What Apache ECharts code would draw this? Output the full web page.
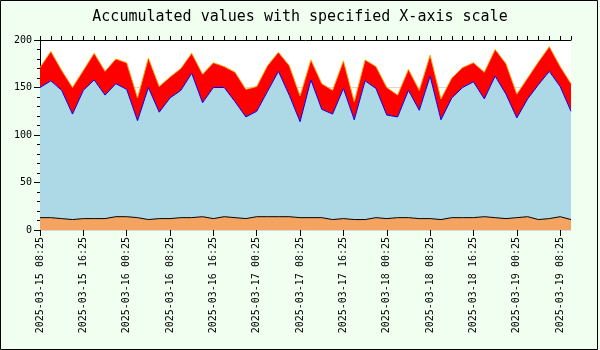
<!DOCTYPE html>
<html>
<head>
<meta charset="utf-8">
<script src="https://cdn.jsdelivr.net/npm/echarts@6/dist/echarts.min.js"></script>
<style>
  html, body { margin: 0; padding: 0; background: #f0fff0; }
  #chart { width: 600px; height: 350px; }
</style>
</head>
<body>
<div id="chart"></div>
<script>
// Sample times: hours after 2025-03-15 08:25, one reading every 2 hours
var hours = [0, 2, 4, 6, 8, 10, 12, 14, 16, 18, 20, 22, 24, 26, 28, 30, 32, 34, 36, 38,
             40, 42, 44, 46, 48, 50, 52, 54, 56, 58, 60, 62, 64, 66, 68, 70, 72, 74, 76, 78,
             80, 82, 84, 86, 88, 90, 92, 94, 96, 98];

// Bottom layer
var baseValues = [13, 13, 12, 11, 12, 12, 12, 14, 14, 13, 11, 12, 12, 13, 13, 14, 12, 14, 13, 12,
                  14, 14, 14, 14, 13, 13, 13, 11, 12, 11, 11, 13, 12, 13, 13, 12, 12, 11, 13, 13,
                  13, 14, 13, 12, 13, 14, 11, 12, 14, 11];

// Middle layer
var midValues = [137, 144, 135, 111, 135, 146, 130, 140, 134, 102, 139, 112, 127, 134, 152, 120, 138, 136, 122, 107,
                 111, 132, 153, 128, 101, 145, 114, 111, 137, 105, 146, 136, 109, 106, 134, 114, 150, 105, 126, 137,
                 143, 124, 149, 131, 105, 124, 142, 155, 137, 114];

// Top layer
var topValues = [21, 31, 21, 28, 21, 28, 25, 26, 28, 24, 31, 27, 22, 23, 21, 30, 26, 22, 31, 29,
                 26, 27, 20, 31, 27, 21, 27, 25, 29, 19, 22, 23, 29, 23, 22, 21, 22, 22, 21, 21,
                 20, 28, 28, 32, 25, 22, 24, 26, 21, 29];

// Labelled positions on the time axis (hours) and the y-axis scale
var majorHours = [0, 8, 16, 24, 32, 40, 48, 56, 64, 72, 80, 88, 96];
var yTicks = { min: 0, max: 200, step: 50 };

var startUtc = Date.UTC(2025, 2, 15, 8, 25);
function pad(n) { return (n < 10 ? '0' : '') + n; }
function hourLabel(h) {
  var d = new Date(startUtc + h * 3600 * 1000);
  return d.getUTCFullYear() + '-' + pad(d.getUTCMonth() + 1) + '-' + pad(d.getUTCDate()) +
         ' ' + pad(d.getUTCHours()) + ':' + pad(d.getUTCMinutes());
}

var mono = 'DejaVu Sans Mono';
var chart = echarts.init(document.getElementById('chart'), null, { renderer: 'canvas' });

chart.setOption({
  backgroundColor: '#f0fff0',
  animation: false,
  title: {
    text: 'Accumulated values with specified X-axis scale',
    left: 'center',
    top: 5,
    textStyle: { fontFamily: mono, fontSize: 15, fontWeight: 'normal', color: '#000' }
  },
  grid: {
    left: 40, right: 29, top: 40, bottom: 120,
    show: true, backgroundColor: '#ffffff', borderWidth: 0
  },
  xAxis: [
    {
      // evenly spaced readings carry the stacked areas
      type: 'category', data: hours, boundaryGap: false,
      axisLine: { show: false }, axisTick: { show: false },
      axisLabel: { show: false }, splitLine: { show: false }
    },
    {
      // every 2 hours: short ticks
      type: 'value', min: 0, max: 98, interval: 2,
      axisLine: { show: true, lineStyle: { color: '#000', width: 1 } },
      axisTick: { show: true, length: 4, lineStyle: { color: '#000' } },
      axisLabel: { show: false },
      splitLine: { show: false }
    },
    {
      // every 8 hours: long ticks with date labels
      type: 'value', min: 0, max: 98, position: 'bottom',
      axisLine: { show: false },
      axisTick: { show: true, length: 6, customValues: majorHours, lineStyle: { color: '#000' } },
      axisLabel: {
        show: true, customValues: majorHours, rotate: 90, margin: 7,
        fontFamily: mono, fontSize: 10, color: '#000',
        formatter: function (v) { return hourLabel(v); }
      },
      splitLine: { show: false }
    }
  ],
  yAxis: {
    type: 'value', min: yTicks.min, max: yTicks.max, interval: yTicks.step,
    axisLine: { show: true, lineStyle: { color: '#000', width: 1 } },
    axisTick: { show: true, length: 6, lineStyle: { color: '#000' } },
    minorTick: { show: true, splitNumber: 5, length: 3, lineStyle: { color: '#000' } },
    axisLabel: { fontFamily: mono, fontSize: 10, color: '#000', margin: 8 },
    splitLine: { show: true, lineStyle: { color: '#d8d8d8', width: 1 } }
  },
  series: [
    {
      type: 'line', stack: 'acc', data: baseValues, xAxisIndex: 0,
      showSymbol: false, z: 4,
      lineStyle: { color: '#000000', width: 1 },
      areaStyle: { color: '#f4a460', opacity: 1 }
    },
    {
      type: 'line', stack: 'acc', data: midValues, xAxisIndex: 0,
      showSymbol: false, z: 3,
      lineStyle: { color: '#0000ff', width: 1 },
      areaStyle: { color: '#add8e6', opacity: 1 }
    },
    {
      type: 'line', stack: 'acc', data: topValues, xAxisIndex: 0,
      showSymbol: false, z: 2,
      lineStyle: { color: '#ffa500', width: 1 },
      areaStyle: { color: '#ff0000', opacity: 1 }
    }
  ],
  graphic: [
    {
      type: 'rect', silent: true, z: 100,
      shape: { x: 0.5, y: 0.5, width: 597, height: 349 },
      style: { fill: null, stroke: '#000', lineWidth: 1 }
    }
  ]
});
</script>
</body>
</html>
